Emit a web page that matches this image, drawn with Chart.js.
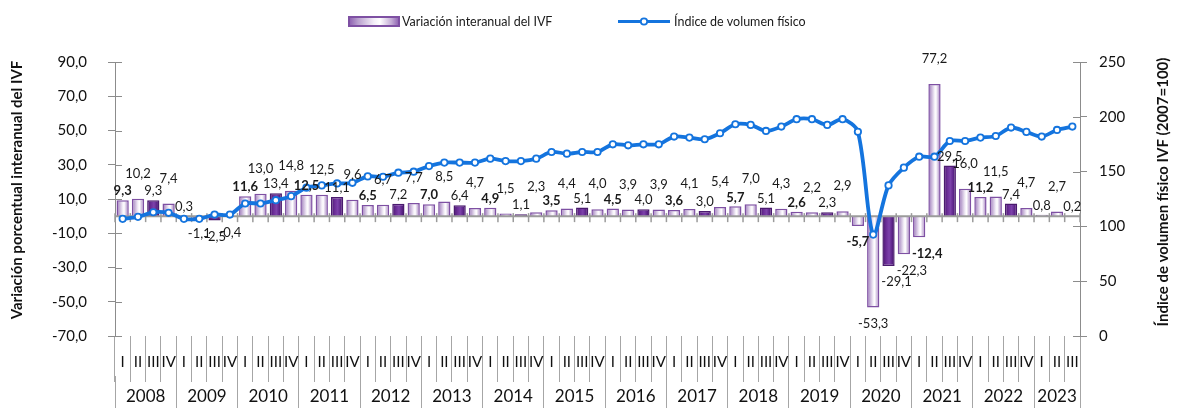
<!DOCTYPE html>
<html><head><meta charset="utf-8">
<script src="https://cdn.jsdelivr.net/npm/chart.js@4"></script>
<style>html,body{margin:0;padding:0;background:#fff}canvas{display:block}</style>
</head><body>
<canvas id="c" width="1178" height="408"></canvas>
<script>
// ---------- DATA ----------
const yearLabels = ['2008','2009','2010','2011','2012','2013','2014','2015','2016','2017','2018','2019','2020','2021','2022','2023'];
const quarterLabels = [
  'I','II','III','IV', 'I','II','III','IV', 'I','II','III','IV', 'I','II','III','IV',
  'I','II','III','IV', 'I','II','III','IV', 'I','II','III','IV', 'I','II','III','IV',
  'I','II','III','IV', 'I','II','III','IV', 'I','II','III','IV', 'I','II','III','IV',
  'I','II','III','IV', 'I','II','III','IV', 'I','II','III','IV', 'I','II','III'
];
const variacion = [
  9.3, 10.2, 9.3, 7.4,
  0.3, -1.1, -2.5, -0.4,
  11.6, 13.0, 13.4, 14.8,
  12.5, 12.5, 11.1, 9.6,
  6.5, 6.7, 7.2, 7.7,
  7.0, 8.5, 6.4, 4.7,
  4.9, 1.5, 1.1, 2.3,
  3.5, 4.4, 5.1, 4.0,
  4.5, 3.9, 4.0, 3.9,
  3.6, 4.1, 3.0, 5.4,
  5.7, 7.0, 5.1, 4.3,
  2.6, 2.2, 2.3, 2.9,
  -5.7, -53.3, -29.1, -22.3,
  -12.4, 77.2, 29.5, 16.0,
  11.2, 11.5, 7.4, 4.7,
  0.8, 2.7, 0.2
];
const indice = [
  106.9, 108.7, 112.9, 112.4,
  106.9, 106.9, 110.8, 110.8,
  120.9, 120.9, 123.9, 127.6,
  135.3, 137.4, 139.2, 139.8,
  145.6, 145.3, 149.0, 149.9,
  155.0, 158.2, 158.2, 158.2,
  161.8, 159.6, 159.6, 161.8,
  167.9, 166.4, 167.9, 167.9,
  174.9, 174.0, 174.9, 174.9,
  182.0, 181.0, 179.5, 185.0,
  193.2, 192.6, 187.1, 191.1,
  197.8, 197.8, 192.6, 197.8,
  186.3, 92.5, 137.4, 153.6,
  163.6, 163.6, 177.9, 177.9,
  181.0, 182.5, 190.2, 186.2,
  182.0, 188.0, 191.1
];
const leftTicks = [-70, -50, -30, -10, 10, 30, 50, 70, 90];
const rightTicks = [0, 50, 100, 150, 200, 250];
const seriesNames = ['Variación interanual del IVF', 'Índice de volumen físico'];
const axisTitles = ['Variación porcentual interanual del IVF', 'Índice de volumen físico IVF (2007=100)'];

// ---------- derived ----------
const yearStarts = [];
quarterLabels.forEach((q, i) => { if (q === 'I') yearStarts.push(i); });
const yearBounds = yearStarts.map(i => i - 0.5).concat([quarterLabels.length - 0.5]);
const yearCenters = yearStarts.map((s, k) => (yearBounds[k] + yearBounds[k + 1]) / 2);

// ---------- styles ----------
const FONT = 'Lato, "Liberation Sans", sans-serif';
const BLUE = '#1474DE';
const AXIS = '#8C8C8C';
const BAR_PCT = 0.8;

function barGradient(c, x0, x1, dark) {
  const g = c.createLinearGradient(x0, 0, x1, 0);
  if (dark) {
    g.addColorStop(0, '#4A176E');
    g.addColorStop(0.3, '#6A2D96');
    g.addColorStop(0.55, '#7D42AB');
    g.addColorStop(0.8, '#5B2387');
    g.addColorStop(1, '#40125F');
  } else {
    g.addColorStop(0, '#8C5FB0');
    g.addColorStop(0.18, '#B9A0CE');
    g.addColorStop(0.5, '#F4EFF8');
    g.addColorStop(0.62, '#FFFFFF');
    g.addColorStop(0.85, '#C3ABD5');
    g.addColorStop(1, '#8B5EAF');
  }
  return g;
}

function barFill(ctx) {
  const chart = ctx.chart;
  const xs = chart.scales.x;
  if (!xs || !xs.width || ctx.dataIndex === undefined) return '#A98BC4';
  const xc = xs.getPixelForValue(ctx.dataIndex);
  const half = xs.width / quarterLabels.length * BAR_PCT / 2;
  return barGradient(chart.ctx, xc - half, xc + half, quarterLabels[ctx.dataIndex] === 'III');
}
function barBorder(ctx) {
  if (ctx.dataIndex === undefined) return '#7A4A9E';
  return quarterLabels[ctx.dataIndex] === 'III' ? '#4A1A6E' : '#7E50A3';
}

// ---------- plugins ----------
const deco = {
  id: 'deco',
  afterDatasetDraw(chart, args) {
    if (args.index !== 0) return;
    const { ctx, chartArea } = chart;
    const ys = chart.scales.y, xs = chart.scales.x;
    const y0 = ys.getPixelForValue(0);
    ctx.save();
    ctx.strokeStyle = '#9B9B9B';
    ctx.lineWidth = 2;
    ctx.beginPath(); ctx.moveTo(chartArea.left, y0); ctx.lineTo(chartArea.right, y0); ctx.stroke();
    ctx.lineWidth = 1.5;
    for (let i = 0; i <= quarterLabels.length; i++) {
      const x = xs.getPixelForValue(i - 0.5);
      ctx.beginPath(); ctx.moveTo(x, y0 - 3); ctx.lineTo(x, y0 + 6); ctx.stroke();
    }
    ctx.restore();
  },
  afterDatasetsDraw(chart) {
    const { ctx } = chart;
    const meta = chart.getDatasetMeta(0);
    ctx.save();
    ctx.fillStyle = '#1A1A1A';
    ctx.textAlign = 'center';
    ctx.textBaseline = 'middle';
    meta.data.forEach((bar, i) => {
      const v = variacion[i];
      const bold = quarterLabels[i] === 'I' && Math.abs(v) >= 1;
      ctx.font = (bold ? 'bold ' : '') + '13px ' + FONT;
      let y, x = bar.x;
      if (v >= 0) y = bar.y - (i % 2 === 1 ? 25 : 9);
      else { y = bar.y + 16; if (v < -10 && v > -50) x += 8; }
      ctx.fillText(v.toFixed(1).replace('.', ','), x, y);
    });
    ctx.restore();
  },
  afterDraw(chart) {
    const { ctx, chartArea } = chart;
    const ys = chart.scales.y, yr = chart.scales.y1;
    ctx.save();
    ctx.strokeStyle = AXIS; ctx.lineWidth = 1;
    leftTicks.forEach(v => {
      const y = Math.round(ys.getPixelForValue(v)) + 0.5;
      ctx.beginPath(); ctx.moveTo(chartArea.left, y); ctx.lineTo(chartArea.left + 7, y); ctx.stroke();
    });
    rightTicks.forEach(v => {
      const y = Math.round(yr.getPixelForValue(v)) + 0.5;
      ctx.beginPath(); ctx.moveTo(chartArea.right - 7, y); ctx.lineTo(chartArea.right, y); ctx.stroke();
    });
    ctx.fillStyle = '#111';
    ctx.font = 'bold 15px ' + FONT;
    ctx.textAlign = 'center'; ctx.textBaseline = 'middle';
    const midY = 190;
    ctx.save(); ctx.translate(17, midY); ctx.rotate(-Math.PI / 2); ctx.fillText(axisTitles[0], 0, 0); ctx.restore();
    ctx.save(); ctx.translate(1163, midY + 2); ctx.rotate(-Math.PI / 2); ctx.fillText(axisTitles[1], 0, 0); ctx.restore();
    const ly = 21.5;
    ctx.fillStyle = barGradient(ctx, 349, 399, false);
    ctx.fillRect(349, 17, 50, 9);
    ctx.strokeStyle = '#7E50A3'; ctx.lineWidth = 2;
    ctx.strokeRect(349, 17, 50, 9);
    ctx.fillStyle = '#1A1A1A';
    ctx.font = '12.5px ' + FONT;
    ctx.textAlign = 'left';
    ctx.fillText(seriesNames[0], 402, ly);
    ctx.strokeStyle = BLUE; ctx.lineWidth = 3;
    ctx.beginPath(); ctx.moveTo(618, ly); ctx.lineTo(670, ly); ctx.stroke();
    ctx.fillStyle = '#fff'; ctx.lineWidth = 1.8;
    ctx.beginPath(); ctx.arc(644, ly, 3.2, 0, Math.PI * 2); ctx.fill(); ctx.stroke();
    ctx.fillStyle = '#1A1A1A';
    ctx.fillText(seriesNames[1], 674, ly);
    ctx.restore();
  }
};

// ---------- chart ----------
new Chart(document.getElementById('c'), {
  data: {
    labels: quarterLabels,
    datasets: [
      {
        type: 'bar', label: seriesNames[0], data: variacion, yAxisID: 'y', xAxisID: 'x', order: 2,
        backgroundColor: barFill, borderColor: barBorder, borderWidth: 1.5,
        barPercentage: BAR_PCT, categoryPercentage: 1.0
      },
      {
        type: 'line', label: seriesNames[1], data: indice, yAxisID: 'y1', xAxisID: 'x', order: 1,
        borderColor: BLUE, borderWidth: 3.8, tension: 0.3,
        pointRadius: 3.2, pointBackgroundColor: '#fff', pointBorderColor: BLUE, pointBorderWidth: 1.8
      }
    ]
  },
  options: {
    responsive: false,
    animation: false,
    layout: { padding: { top: 62, left: 0, right: 0, bottom: 0 } },
    plugins: { legend: { display: false }, tooltip: { enabled: false } },
    scales: {
      x: {
        type: 'category', position: 'bottom', offset: true,
        grid: { offset: true, drawOnChartArea: false, tickLength: 46, color: '#A6A6A6', lineWidth: 1 },
        border: { display: false },
        ticks: { autoSkip: false, maxRotation: 0, minRotation: 0, padding: -29, color: '#111', font: { family: FONT, size: 15 } },
        afterFit: s => { s.height = 40; }
      },
      xYear: {
        type: 'linear', position: 'bottom', min: -0.5, max: quarterLabels.length - 0.5,
        grid: {
          drawOnChartArea: false, tickLength: 32, lineWidth: 1,
          color: c => (c.tick && yearBounds.includes(c.tick.value)) ? '#A6A6A6' : 'rgba(0,0,0,0)'
        },
        border: { display: false },
        afterBuildTicks: s => {
          const vals = yearBounds.concat(yearCenters).sort((a, b) => a - b);
          s.ticks = vals.map(v => ({ value: v }));
        },
        ticks: {
          autoSkip: false, maxRotation: 0, minRotation: 0, padding: -22, color: '#111',
          font: { family: FONT, size: 17 },
          callback: v => { const k = yearCenters.indexOf(v); return k >= 0 ? yearLabels[k] : ''; }
        },
        afterFit: s => { s.height = 32; }
      },
      y: {
        type: 'linear', position: 'left', min: -70, max: 90,
        grid: { drawOnChartArea: false, tickLength: 7, color: AXIS },
        border: { display: true, color: AXIS, width: 1 },
        ticks: { stepSize: 20, padding: 21, color: '#111', font: { family: FONT, size: 15 },
          callback: v => v.toFixed(1).replace('.', ',') },
        afterFit: s => { s.width = 115; }
      },
      y1: {
        type: 'linear', position: 'right', min: 0, max: 250,
        grid: { drawOnChartArea: false, tickLength: 7, color: AXIS },
        border: { display: true, color: AXIS, width: 1 },
        ticks: { stepSize: 50, padding: 12, color: '#111', font: { family: FONT, size: 15 } },
        afterFit: s => { s.width = 98; }
      }
    }
  },
  plugins: [deco]
});
</script>
</body></html>
